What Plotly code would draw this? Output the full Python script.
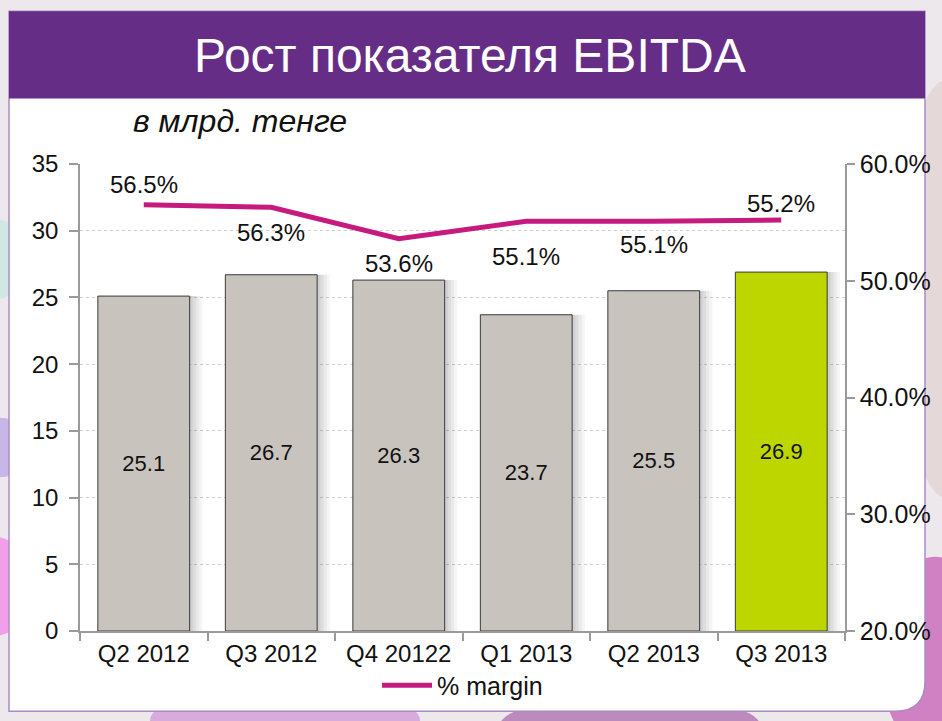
import plotly.graph_objects as go

categories = ["Q2 2012", "Q3 2012", "Q4 20122", "Q1 2013", "Q2 2013", "Q3 2013"]
ebitda = [25.1, 26.7, 26.3, 23.7, 25.5, 26.9]
margin = [0.565, 0.563, 0.536, 0.551, 0.551, 0.552]
margin_label_shift = [20, -25, -25, -35, -23, 17]

title_text = "Рост показателя EBITDA"
subtitle_text = "в млрд. тенге"
line_name = "% margin"

W, H = 942, 721
L, R, T, B = 80, 845, 164, 635


def fx(p):
    return (p - L) / (R - L)


def fy(p):
    return (B - p) / (B - T)


bar_colors = ["#C8C4BD"] * (len(categories) - 1) + ["#BDD600"]
FONT = "Liberation Sans, Arial, sans-serif"
BW = 0.72

fig = go.Figure()
# soft shadows to the right of the bars
for off, alpha in [(0.10, 0.05), (0.075, 0.06), (0.05, 0.07), (0.025, 0.08)]:
    fig.add_trace(go.Bar(
        x=categories, y=ebitda, width=BW, offset=-BW / 2 + off,
        marker=dict(color=f"rgba(60,60,60,{alpha})", line=dict(width=0)),
        showlegend=False, hoverinfo="skip",
    ))
fig.add_trace(go.Bar(
    x=categories, y=ebitda, width=BW, offset=-BW / 2,
    marker=dict(color=bar_colors, line=dict(color="#3a3a3a", width=1)),
    text=[f"{v:.1f}" for v in ebitda], textposition="inside",
    insidetextanchor="middle", textangle=0,
    textfont=dict(size=22, color="#111111", family=FONT),
    showlegend=False, hoverinfo="skip",
))
fig.add_trace(go.Scatter(
    x=categories, y=margin, yaxis="y2", mode="lines", name=line_name,
    line=dict(color="#C71A7F", width=5),
))

annotations = []
for c, m, s in zip(categories, margin, margin_label_shift):
    annotations.append(dict(
        x=c, y=m, xref="x", yref="y2", text=f"{m*100:.1f}%", showarrow=False,
        yshift=s, font=dict(size=24, color="#111111", family=FONT),
    ))
annotations.append(dict(
    x=fx(470), y=fy(55), xref="paper", yref="paper",
    text=title_text, showarrow=False, xanchor="center", yanchor="middle",
    font=dict(size=48, color="white", family=FONT),
))
annotations.append(dict(
    x=fx(131), y=fy(121), xref="paper", yref="paper",
    text=f"<i>{subtitle_text}</i>", showarrow=False, xanchor="left", yanchor="middle",
    font=dict(size=32, color="#111111", family=FONT),
))

shapes = []
# decorative background blobs
blobs = [
    (-30, 420, 30, 480, "rgba(170,140,230,0.55)"),
    (-40, 540, 30, 640, "rgba(245,110,235,0.6)"),
    (-30, 220, 25, 300, "rgba(180,230,220,0.5)"),
    (150, 690, 420, 760, "rgba(200,120,210,0.55)"),
    (500, 700, 760, 760, "rgba(150,60,150,0.55)"),
    (880, 560, 990, 760, "rgba(190,60,170,0.6)"),
    (900, 80, 990, 500, "rgba(225,205,205,0.6)"),
]
for x0, y0, x1, y1, col in blobs:
    shapes.append(dict(type="circle", xref="paper", yref="paper", layer="below",
                       x0=fx(x0), x1=fx(x1), y0=fy(y1), y1=fy(y0),
                       fillcolor=col, line=dict(width=0)))
# white panel with rounded bottom-right corner
px0, py0, px1, py1, rr = 9, 10, 925, 716, 30
path = (f"M {fx(px0)},{fy(py0)} L {fx(px1)},{fy(py0)} L {fx(px1)},{fy(py1 - rr)} "
        f"Q {fx(px1)},{fy(py1)} {fx(px1 - rr)},{fy(py1)} L {fx(px0)},{fy(py1)} Z")
shapes.append(dict(type="path", path=path, xref="paper", yref="paper", layer="below",
                   fillcolor="white", line=dict(color="#A98CC6", width=1.5)))
# purple header
shapes.append(dict(type="rect", xref="paper", yref="paper", layer="below",
                   x0=fx(px0), x1=fx(px1), y0=fy(98), y1=fy(py0),
                   fillcolor="#652D86", line=dict(width=0)))

fig.update_layout(
    width=W, height=H,
    margin=dict(l=L, r=W - R, t=T, b=H - B, pad=0),
    paper_bgcolor="#ECE8EC", plot_bgcolor="rgba(0,0,0,0)",
    font=dict(family=FONT, size=22, color="#111111"),
    barmode="overlay",
    showlegend=True,
    legend=dict(orientation="h", x=0.5, xanchor="center", y=fy(690), yanchor="middle",
                font=dict(size=25), bgcolor="rgba(0,0,0,0)", itemwidth=50),
    xaxis=dict(showline=True, linecolor="#9a9a9a", linewidth=1.5, ticks="outside",
               tickson="boundaries", ticklen=8, tickcolor="#9a9a9a", tickwidth=1.5,
               tickfont=dict(size=24), showgrid=False, fixedrange=True),
    yaxis=dict(range=[0, 35], dtick=5, showline=True, linecolor="#9a9a9a", linewidth=1.5,
               ticks="outside", ticklen=9, tickcolor="#9a9a9a", tickwidth=1.5,
               ticklabelstandoff=6,
               showgrid=True, gridcolor="#cfcfcf", griddash="dot", gridwidth=1,
               zeroline=False, tickfont=dict(size=24)),
    yaxis2=dict(range=[0.2, 0.6], dtick=0.1, tickformat=".1%", overlaying="y", side="right",
                showline=True, linecolor="#9a9a9a", linewidth=1.5, ticks="outside",
                ticklen=8, tickcolor="#9a9a9a", tickwidth=1.5, showgrid=False,
                zeroline=False, tickfont=dict(size=25)),
    annotations=annotations, shapes=shapes,
)

fig.write_html("out.html", config={"displayModeBar": False},
               post_script="document.body.style.margin='0';document.body.style.overflow='hidden';")
